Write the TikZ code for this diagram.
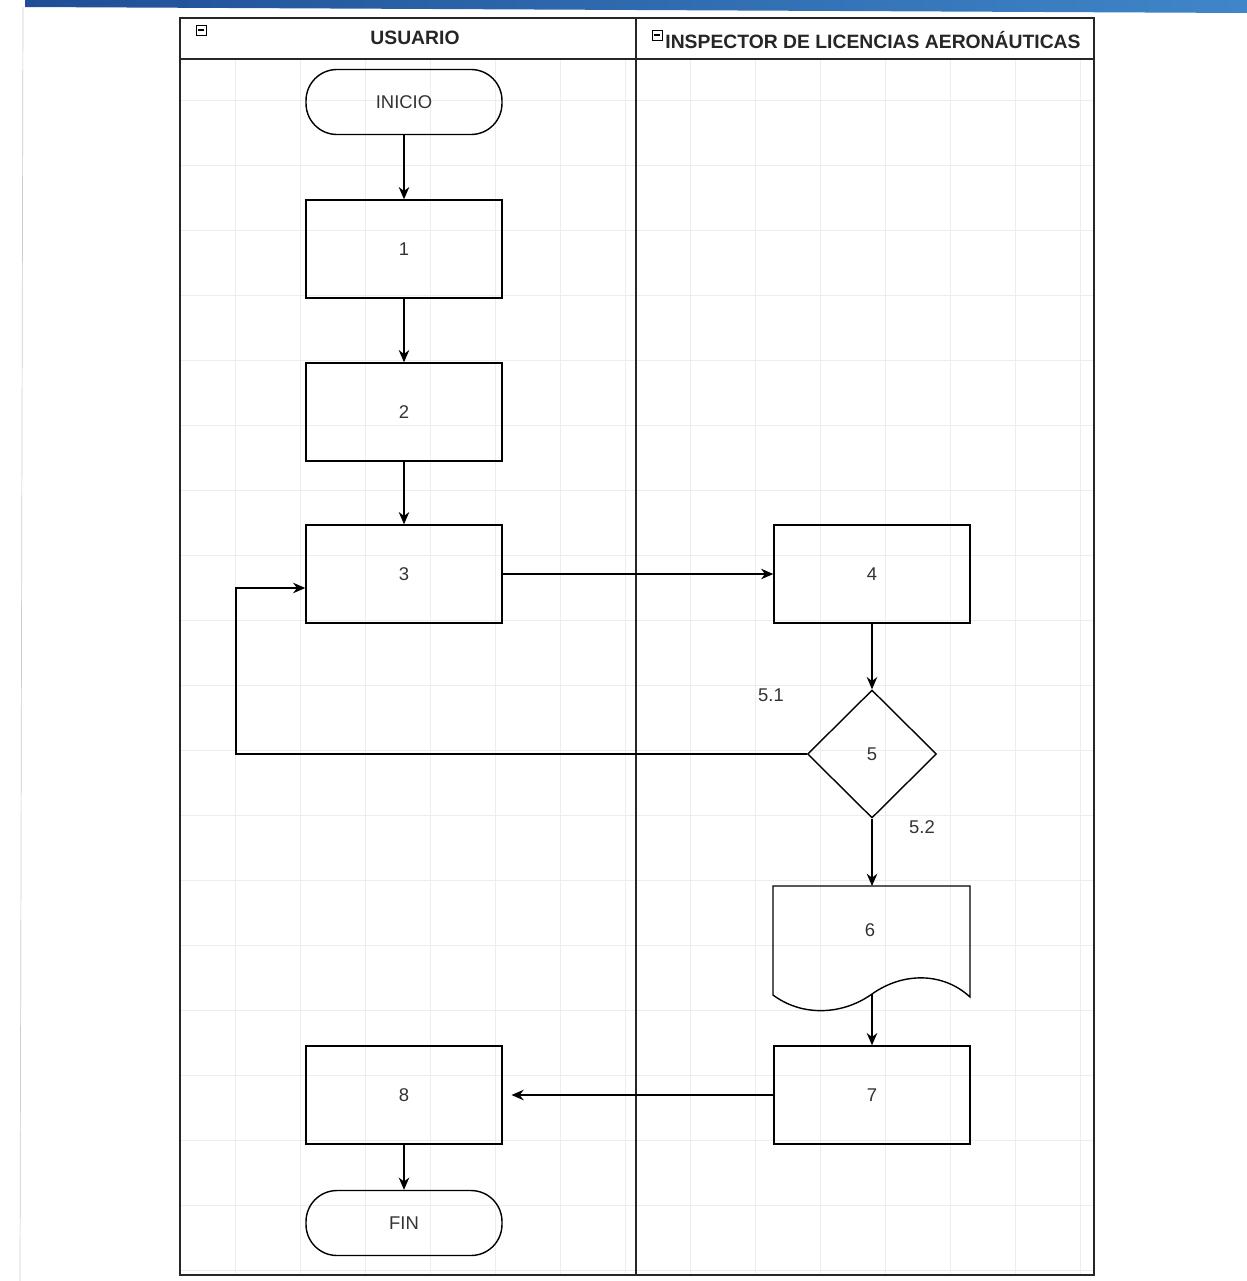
\documentclass[tikz,border=0pt]{standalone}
\usepackage{fontspec}
\setmainfont{Liberation Sans}
\usetikzlibrary{arrows.meta,calc,shapes.geometric,positioning}

\definecolor{bandblue}{HTML}{1F4E96}
\definecolor{bandlight}{HTML}{3F86C8}

\begin{document}
\begin{tikzpicture}[x=0.02cm,y=-0.02cm,>={Stealth[length=7pt,width=6pt]},
  lane/.style={line width=1.2pt,draw=black!85},
  gridln/.style={draw=gray!14,line width=0.5pt},
  head/.style={font=\fontsize{11}{13}\selectfont\bfseries,text=black!85},
  proc/.style={draw,line width=0.8pt,minimum width=3.92cm,minimum height=1.96cm,
    inner sep=0pt,font=\fontsize{10.5}{12}\selectfont,text=black!80},
  term/.style={draw,line width=0.8pt,rounded corners=0.62cm,minimum width=3.92cm,
    minimum height=1.3cm,inner sep=0pt,font=\fontsize{10.5}{12}\selectfont,text=black!80},
  decis/.style={draw,diamond,aspect=1,line width=0.8pt,inner sep=0pt,
    minimum width=2.58cm,minimum height=2.56cm,font=\fontsize{10.5}{12}\selectfont,text=black!80},
  lbl/.style={font=\fontsize{10.5}{12}\selectfont,text=black!80},
  flow/.style={->,line width=0.8pt}]

  % --------- page ----------
  \useasboundingbox[fill=white] (0,0) rectangle (1247,1281);
  \shade[left color=bandblue,right color=bandlight] (25,0) -- (1247,0) -- (1247,13) -- (25,7) -- cycle;
  \draw[gray!40,line width=0.4pt] (23,7) -- (20,1281);

  % --------- faint grid ----------
  \foreach \gx in {235,300,...,1080} \draw[gridln] (\gx,59) -- (\gx,1275);
  \foreach \gy in {100,165,...,1270} \draw[gridln] (180,\gy) -- (1094,\gy);

  % ============== Pool and lanes =================
  \draw[lane] (180,18) rectangle (1094,1275);
  \draw[lane] (180,59) -- (1094,59);
  \draw[lane] (636,18) -- (636,1275);

  % collapse icons
  \draw[line width=0.5pt] (196,25) rectangle (206,35);
  \draw[line width=1pt] (198,30) -- (204,30);
  \draw[line width=0.5pt] (652,30) rectangle (662,40);
  \draw[line width=1pt] (654,35) -- (660,35);

  \node[head] (hUser) at (415,38) {USUARIO};
  \node[head] (hInsp) at (873,40) {INSPECTOR DE LICENCIAS AERONÁUTICAS};

  % ============== Lane: Usuario =================
  \node[term] (inicio) at (404,102) {INICIO};
  \node[proc] (p1) at (404,249) {1};
  \node[proc] (p2) at (404,412) {2};
  \node[proc] (p3) at (404,574) {3};
  \node[proc] (p8) at (404,1095) {8};
  \node[term] (fin) at (404,1223) {FIN};

  % ============== Lane: Inspector =================
  \node[proc] (p4) at (872,574) {4};
  \node[decis] (d5) at (872,754) {5};
  \node[lbl] (l51) at (771,695) {5.1};
  \node[lbl] (l52) at (922,827) {5.2};

  % document shape 6
  \draw[line width=0.8pt] (773,886) -- (970,886) -- (970,997)
    .. controls (943,972) and (903,972) .. (872,994)
    .. controls (841,1016) and (801,1016) .. (773,995) -- cycle;
  \node[lbl] (d6) at (870,930) {6};
  \coordinate (d6top) at (872,886);
  \coordinate (d6bot) at (872,994);

  \node[proc] (p7) at (872,1095) {7};

  % ============== Connectors =================
  \draw[flow] (inicio) -- (p1);
  \draw[flow] (p1) -- (p2);
  \draw[flow] (p2) -- (p3);
  \draw[flow] (p3) -- (p4);
  \draw[flow] (p4) -- (d5);
  \draw[flow] (d5) -- (d6top);
  \draw[flow] (d6bot) -- (p7);
  \draw[flow,shorten >=5pt] (p7) -- (p8);
  \draw[flow] (p8) -- (fin);

  % back to 3 (5.1)
  \coordinate (back) at (236,588);
  \draw[flow] (d5.west) -| (back) -- (back -| p3.west);

\end{tikzpicture}
\end{document}
